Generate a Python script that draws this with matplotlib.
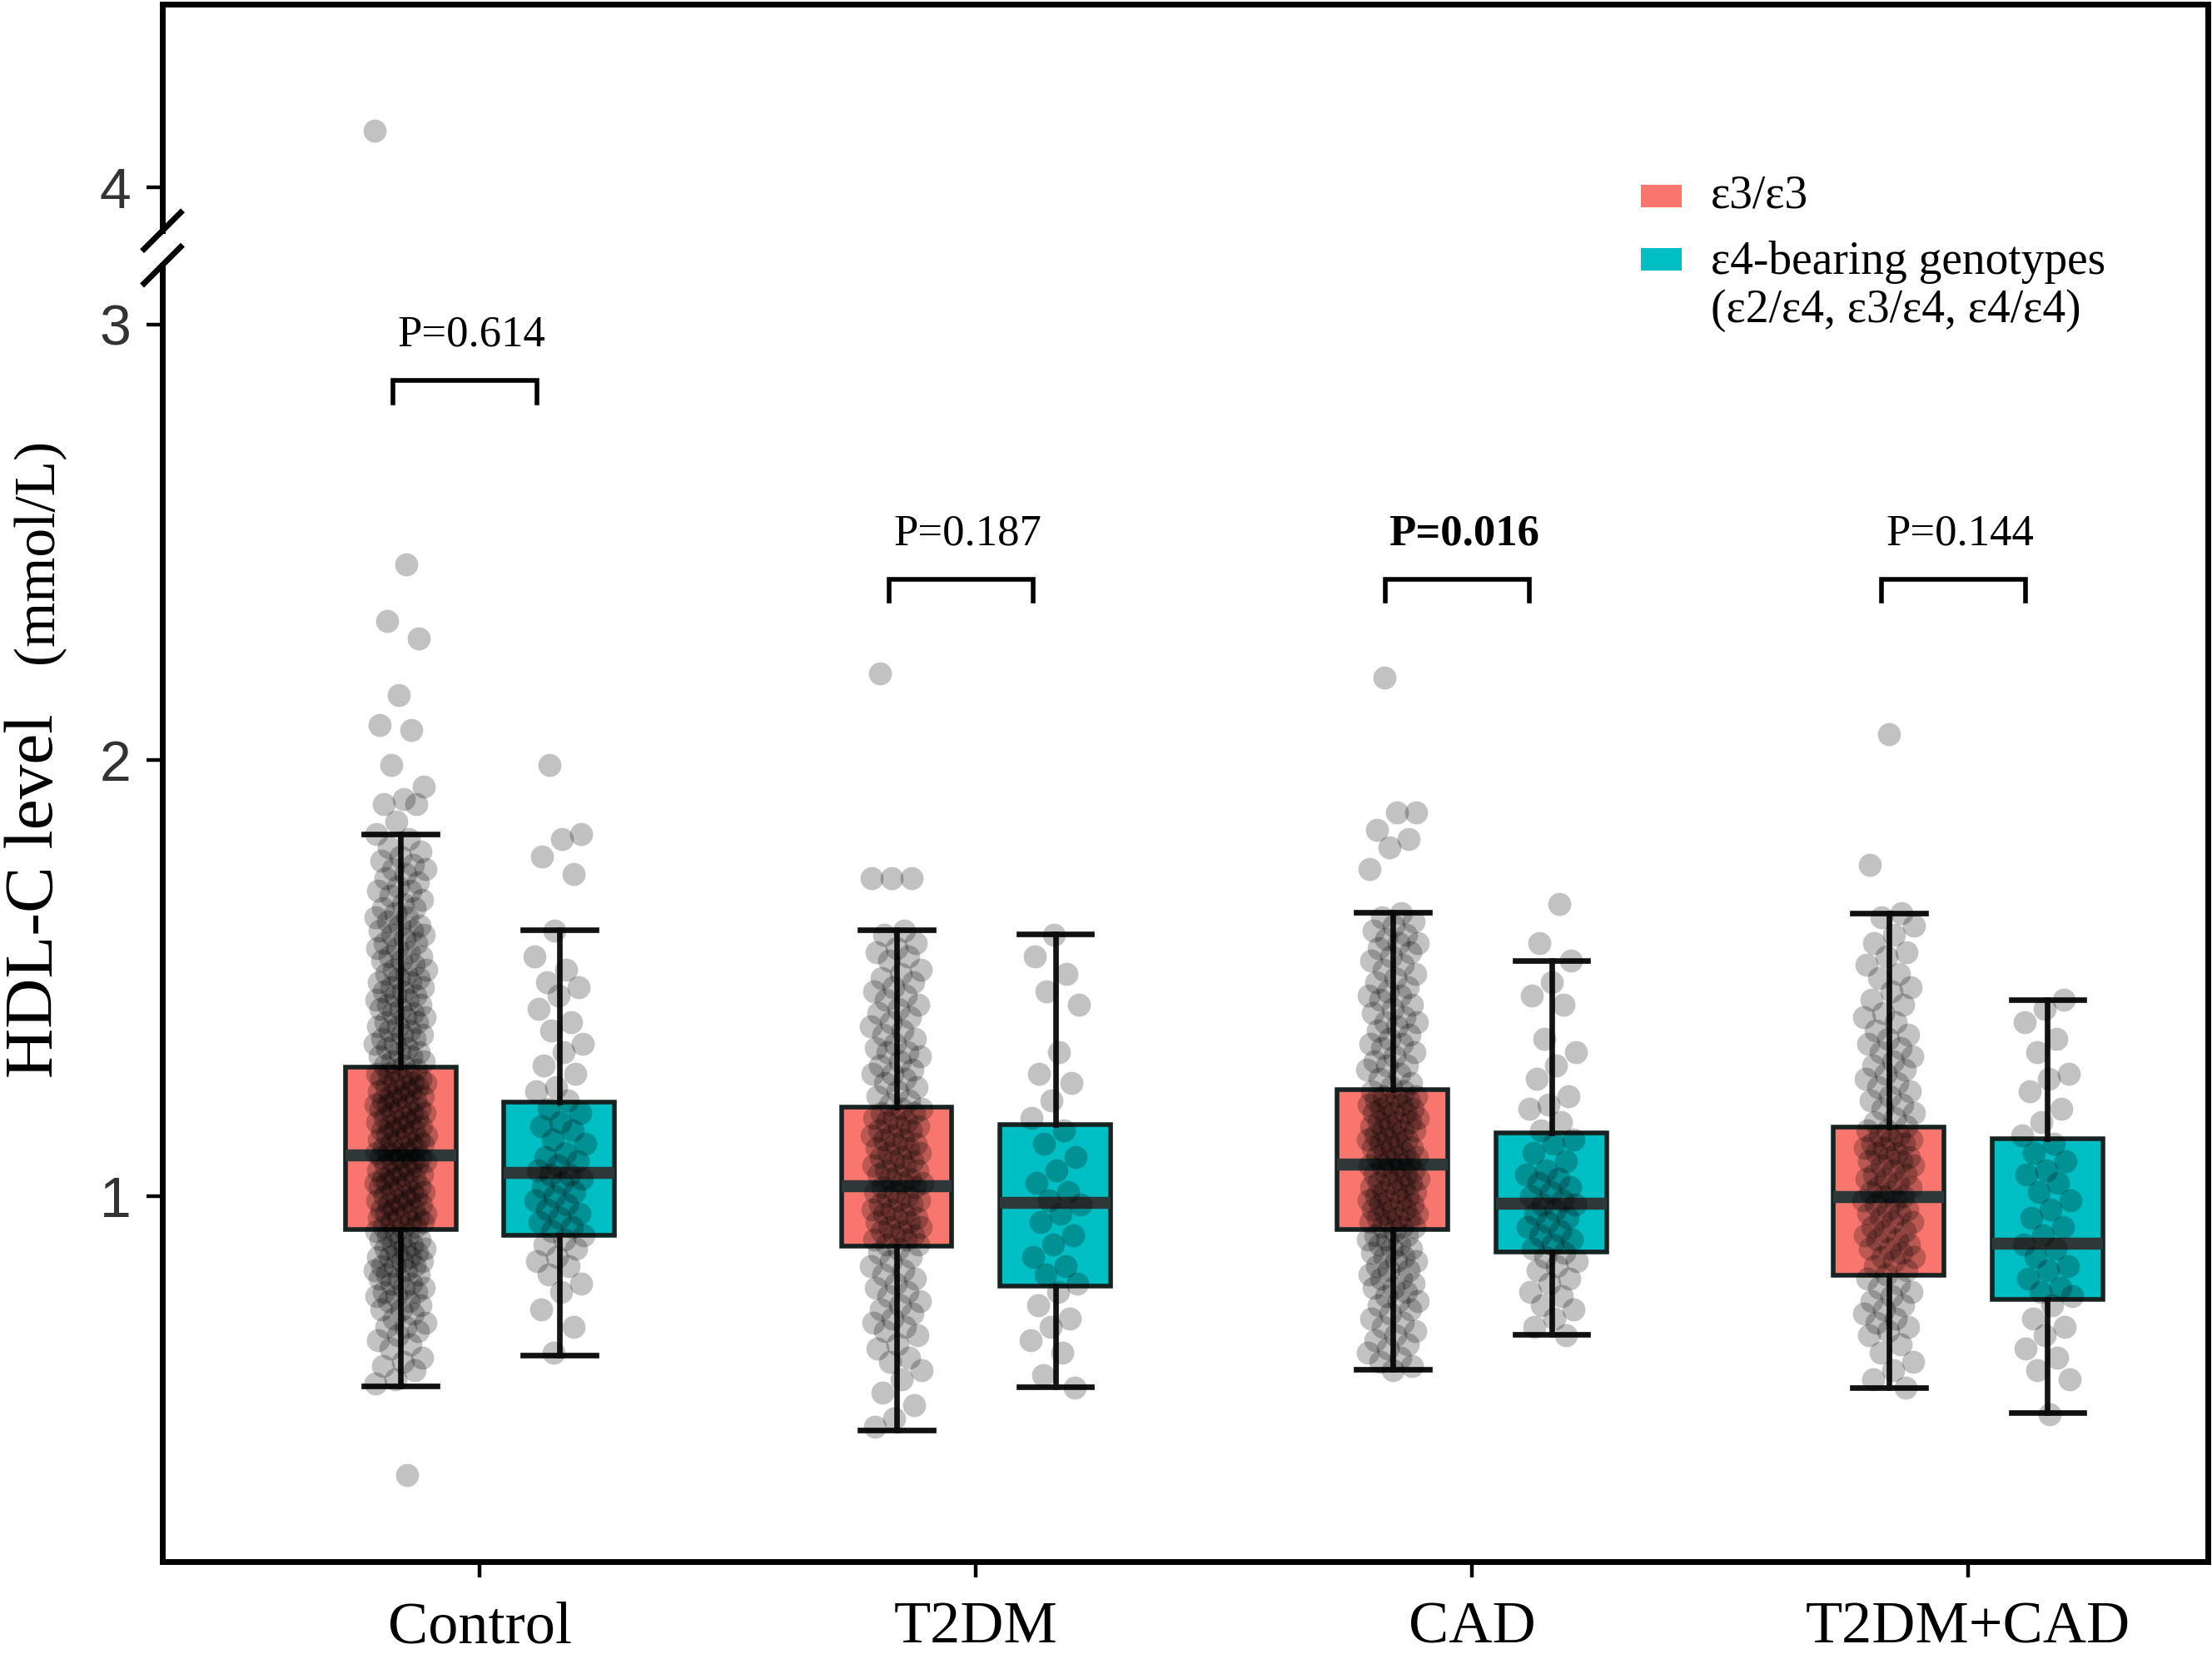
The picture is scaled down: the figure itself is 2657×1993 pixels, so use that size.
import numpy as np
import matplotlib
matplotlib.use('Agg')
import matplotlib.pyplot as plt
from matplotlib.patches import Rectangle

plt.rcParams['font.family'] = ['Liberation Serif', 'DejaVu Serif']

# ---- data (HDL-C, mmol/L) ----
groups = ['Control', 'T2DM', 'CAD', 'T2DM+CAD']
genotypes = ['ε3/ε3', 'ε4-bearing genotypes\n(ε2/ε4, ε3/ε4, ε4/ε4)']
colors = ['#F8766D', '#00BFC4']

# box summaries per group: [ε3/ε3, ε4-bearing]
whislo = [[0.565, 0.636], [0.464, 0.562], [0.603, 0.683], [0.561, 0.503]]
q1 = [[0.923, 0.910], [0.885, 0.793], [0.923, 0.871], [0.819, 0.764]]
med = [[1.093, 1.053], [1.023, 0.985], [1.073, 0.982], [0.998, 0.891]]
q3 = [[1.295, 1.215], [1.204, 1.164], [1.244, 1.145], [1.158, 1.132]]
whishi = [[1.830, 1.612], [1.612, 1.602], [1.651, 1.541], [1.650, 1.451]]

p_labels = ['P=0.614', 'P=0.187', 'P=0.016', 'P=0.144']
p_bold = [False, False, True, False]
p_level = [2.871, 2.415, 2.415, 2.415]

ctrl_e33 = [4.13, 2.45, 2.32, 2.28, 2.15, 2.08, 2.07, 1.99, 1.94, 1.91, 1.90, 1.90, 1.86,
            1.83, 1.82, 1.80, 1.79, 1.78, 1.77, 1.76, 1.75, 1.75, 1.74, 1.73, 1.72, 1.71, 1.70,
            1.70, 1.69, 1.68, 1.67, 1.66, 1.66, 1.65, 1.64, 1.64, 1.63, 1.62, 1.62, 1.61, 1.61,
            1.60, 1.60, 1.59, 1.58, 1.58, 1.57, 1.57, 1.56, 1.55, 1.55, 1.54, 1.54, 1.53, 1.52,
            1.52, 1.51, 1.51, 1.50, 1.50, 1.49, 1.49, 1.48, 1.48, 1.47, 1.47, 1.46, 1.46, 1.45,
            1.45, 1.44, 1.44, 1.43, 1.43, 1.42, 1.42, 1.41, 1.41, 1.40, 1.40, 1.39, 1.39, 1.38,
            1.38, 1.37, 1.37, 1.36, 1.36, 1.35, 1.35, 1.34, 1.34, 1.33, 1.33, 1.32, 1.32, 1.31,
            1.31, 1.30, 1.30,
            1.29, 1.29, 1.28, 1.28, 1.28, 1.27, 1.27, 1.27, 1.26, 1.26, 1.26, 1.25, 1.25, 1.25,
            1.24, 1.24, 1.24, 1.23, 1.23, 1.23, 1.22, 1.22, 1.22, 1.21, 1.21, 1.21, 1.20, 1.20,
            1.20, 1.19, 1.19, 1.19, 1.18, 1.18, 1.18, 1.17, 1.17, 1.17, 1.16, 1.16, 1.16, 1.15,
            1.15, 1.15, 1.14, 1.14, 1.14, 1.13, 1.13, 1.13, 1.12, 1.12, 1.12, 1.11, 1.11, 1.11,
            1.10, 1.10, 1.10, 1.10,
            1.09, 1.09, 1.09, 1.08, 1.08, 1.08, 1.07, 1.07, 1.07, 1.06, 1.06, 1.06, 1.05, 1.05,
            1.05, 1.04, 1.04, 1.04, 1.03, 1.03, 1.03, 1.02, 1.02, 1.02, 1.01, 1.01, 1.01, 1.00,
            1.00, 1.00, 0.99, 0.99, 0.99, 0.98, 0.98, 0.98, 0.97, 0.97, 0.97, 0.96, 0.96, 0.96,
            0.95, 0.95, 0.95, 0.94, 0.94, 0.94, 0.93, 0.93, 0.93, 0.92, 0.92,
            0.91, 0.91, 0.90, 0.90, 0.90, 0.89, 0.89, 0.88, 0.88, 0.88, 0.87, 0.87, 0.86, 0.86,
            0.86, 0.85, 0.85, 0.84, 0.84, 0.84, 0.83, 0.83, 0.82, 0.82, 0.81, 0.81, 0.80, 0.80,
            0.79, 0.79, 0.78, 0.78, 0.77, 0.77, 0.76, 0.76, 0.75, 0.74, 0.74, 0.73, 0.72, 0.71,
            0.70, 0.70, 0.69, 0.68, 0.67, 0.66, 0.65, 0.63, 0.62, 0.61, 0.60, 0.58, 0.57, 0.36]
ctrl_e4 = [1.99, 1.83, 1.82, 1.78, 1.74, 1.61, 1.55, 1.52, 1.49, 1.48, 1.46, 1.43, 1.40, 1.38,
           1.35, 1.33, 1.30, 1.28, 1.25, 1.24, 1.22, 1.20, 1.19, 1.17, 1.16, 1.15, 1.13, 1.12,
           1.10, 1.09, 1.08, 1.07, 1.06, 1.05, 1.05, 1.04, 1.03, 1.02, 1.01, 1.00, 0.99, 0.98,
           0.97, 0.96, 0.95, 0.94, 0.93, 0.92, 0.91, 0.90, 0.89, 0.88, 0.86, 0.85, 0.84, 0.82,
           0.80, 0.78, 0.74, 0.70, 0.64]
t2dm_e33 = [2.20, 1.73, 1.73, 1.73,
            1.61, 1.60, 1.58, 1.57, 1.56, 1.55, 1.54, 1.52, 1.51, 1.50, 1.49, 1.48, 1.47, 1.46,
            1.45, 1.44, 1.43, 1.42, 1.41, 1.40, 1.39, 1.38, 1.37, 1.36, 1.35, 1.34, 1.33, 1.33,
            1.32, 1.31, 1.30, 1.29, 1.28, 1.28, 1.27, 1.26, 1.25, 1.24, 1.23, 1.22, 1.21,
            1.20, 1.20, 1.19, 1.19, 1.18, 1.18, 1.17, 1.17, 1.16, 1.16, 1.15, 1.15, 1.14, 1.14,
            1.13, 1.13, 1.12, 1.12, 1.11, 1.11, 1.10, 1.10, 1.09, 1.09, 1.08, 1.08, 1.07, 1.07,
            1.06, 1.06, 1.05, 1.05, 1.04, 1.04, 1.03, 1.03, 1.02, 1.02, 1.01, 1.01, 1.00, 1.00,
            0.99, 0.99, 0.98, 0.98, 0.97, 0.97, 0.96, 0.96, 0.95, 0.95, 0.94, 0.94, 0.93, 0.93,
            0.92, 0.92, 0.91, 0.91, 0.90, 0.90, 0.89, 0.89,
            0.88, 0.87, 0.86, 0.85, 0.84, 0.83, 0.82, 0.81, 0.80, 0.79, 0.78, 0.77, 0.76, 0.75,
            0.74, 0.73, 0.72, 0.71, 0.70, 0.69, 0.68, 0.66, 0.65, 0.63, 0.62, 0.60, 0.58, 0.55,
            0.52, 0.49, 0.47]
t2dm_e4 = [1.60, 1.55, 1.51, 1.47, 1.44, 1.33, 1.28, 1.26, 1.22, 1.18, 1.15, 1.12, 1.09, 1.06,
           1.03, 1.01, 0.99, 0.98, 0.96, 0.94, 0.91, 0.89, 0.86, 0.84, 0.82, 0.80, 0.78, 0.75,
           0.72, 0.70, 0.67, 0.64, 0.59, 0.56]
cad_e33 = [2.19, 1.88, 1.88, 1.84, 1.82, 1.80, 1.75,
           1.65, 1.64, 1.63, 1.62, 1.61, 1.60, 1.59, 1.58, 1.58, 1.57, 1.56, 1.55, 1.54, 1.53,
           1.52, 1.51, 1.50, 1.49, 1.48, 1.47, 1.46, 1.46, 1.45, 1.44, 1.43, 1.42, 1.41, 1.40,
           1.40, 1.39, 1.38, 1.37, 1.36, 1.35, 1.35, 1.34, 1.33, 1.32, 1.31, 1.30, 1.30, 1.29,
           1.28, 1.27, 1.26, 1.25,
           1.24, 1.24, 1.23, 1.23, 1.23, 1.22, 1.22, 1.21, 1.21, 1.21, 1.20, 1.20, 1.19, 1.19,
           1.19, 1.18, 1.18, 1.17, 1.17, 1.17, 1.16, 1.16, 1.15, 1.15, 1.15, 1.14, 1.14, 1.13,
           1.13, 1.13, 1.12, 1.12, 1.11, 1.11, 1.11, 1.10, 1.10, 1.09, 1.09, 1.09, 1.08, 1.08,
           1.07, 1.07, 1.07, 1.06, 1.06, 1.05, 1.05, 1.05, 1.04, 1.04, 1.03, 1.03, 1.03, 1.02,
           1.02, 1.01, 1.01, 1.01, 1.00, 1.00, 0.99, 0.99, 0.99, 0.98, 0.98, 0.97, 0.97, 0.97,
           0.96, 0.96, 0.95, 0.95, 0.95, 0.94, 0.94, 0.93, 0.93, 0.93,
           0.92, 0.91, 0.91, 0.90, 0.90, 0.89, 0.89, 0.88, 0.88, 0.87, 0.86, 0.86, 0.85, 0.85,
           0.84, 0.83, 0.83, 0.82, 0.81, 0.81, 0.80, 0.79, 0.79, 0.78, 0.77, 0.76, 0.76, 0.75,
           0.74, 0.73, 0.72, 0.71, 0.70, 0.69, 0.68, 0.67, 0.66, 0.65, 0.64, 0.63, 0.62, 0.61,
           0.60]
cad_e4 = [1.67, 1.58, 1.54, 1.49, 1.46, 1.44, 1.36, 1.33, 1.30, 1.27, 1.23, 1.21, 1.20, 1.17,
          1.15, 1.13, 1.12, 1.10, 1.08, 1.06, 1.05, 1.04, 1.03, 1.02, 1.01, 1.00, 0.99, 0.98,
          0.98, 0.97, 0.96, 0.95, 0.94, 0.93, 0.92, 0.91, 0.90, 0.89, 0.88, 0.87, 0.86, 0.85,
          0.84, 0.83, 0.81, 0.80, 0.78, 0.77, 0.75, 0.74, 0.72, 0.70, 0.68]
both_e33 = [2.06, 1.76,
            1.65, 1.64, 1.62, 1.60, 1.58, 1.56, 1.55, 1.53, 1.51, 1.50, 1.48, 1.47, 1.45, 1.44,
            1.42, 1.41, 1.40, 1.38, 1.37, 1.36, 1.35, 1.34, 1.33, 1.32, 1.31, 1.30, 1.29, 1.28,
            1.27, 1.26, 1.25, 1.24, 1.23, 1.22, 1.21, 1.20, 1.19, 1.18, 1.17, 1.16,
            1.15, 1.15, 1.14, 1.14, 1.13, 1.13, 1.12, 1.12, 1.11, 1.11, 1.10, 1.10, 1.09, 1.09,
            1.08, 1.08, 1.07, 1.07, 1.06, 1.05, 1.05, 1.04, 1.04, 1.03, 1.02, 1.02, 1.01, 1.01,
            1.00, 1.00, 0.99, 0.99, 0.98, 0.97, 0.97, 0.96, 0.96, 0.95, 0.94, 0.94, 0.93, 0.92,
            0.92, 0.91, 0.90, 0.90, 0.89, 0.88, 0.88, 0.87, 0.86, 0.86, 0.85, 0.84, 0.83, 0.82,
            0.81, 0.80, 0.79, 0.78, 0.77, 0.76, 0.75, 0.74, 0.73, 0.72, 0.71, 0.70, 0.69, 0.68,
            0.66, 0.64, 0.62, 0.60, 0.58, 0.56]
both_e4 = [1.45, 1.43, 1.40, 1.36, 1.33, 1.28, 1.27, 1.24, 1.20, 1.17, 1.14, 1.12, 1.10, 1.08,
           1.06, 1.05, 1.03, 1.01, 0.99, 0.97, 0.95, 0.93, 0.91, 0.89, 0.88, 0.86, 0.84, 0.83,
           0.81, 0.79, 0.78, 0.77, 0.75, 0.72, 0.70, 0.68, 0.65, 0.63, 0.60, 0.58, 0.50]

points = [[ctrl_e33, ctrl_e4], [t2dm_e33, t2dm_e4], [cad_e33, cad_e4], [both_e33, both_e4]]

# ---- broken y axis: values between ~3.14 and 3.9 are squeezed ----
B_LO, B_HI, SHIFT = 3.136, 3.90, 0.685
K = (B_HI - SHIFT - B_LO) / (B_HI - B_LO)


def fwd(v):
    v = np.asarray(v, dtype=float)
    return np.where(v <= B_LO, v, np.where(v >= B_HI, v - SHIFT, B_LO + (v - B_LO) * K))


def inv(t):
    t = np.asarray(t, dtype=float)
    return np.where(t <= B_LO, t, np.where(t >= B_HI - SHIFT, t + SHIFT, B_LO + (t - B_LO) / K))


fig = plt.figure(figsize=(13.285, 9.965), dpi=200)
ax = fig.add_axes([0.0734, 0.0587, 0.9247, 0.9388])
ax.set_yscale('function', functions=(fwd, inv))
YLO, YHI = 0.1614, 4.42
ax.set_ylim(YLO, YHI)
ax.set_xlim(-0.64, 3.483)

offsets = [-0.16, 0.16]
box_w = 0.223
jit = 0.052

stats, pos, fcs = [], [], []
for i in range(len(groups)):
    for g in range(2):
        stats.append(dict(whislo=whislo[i][g], q1=q1[i][g], med=med[i][g],
                          q3=q3[i][g], whishi=whishi[i][g], fliers=[]))
        pos.append(i + offsets[g])
        fcs.append(colors[g])

bp = ax.bxp(stats, positions=pos, widths=box_w, capwidths=0.147, patch_artist=True,
            showfliers=False,
            boxprops=dict(edgecolor='#172222', linewidth=2.0),
            medianprops=dict(color='#2e3838', linewidth=5.2, solid_capstyle='butt'),
            whiskerprops=dict(color='#141414', linewidth=2.4),
            capprops=dict(color='#111111', linewidth=2.4), zorder=2)
for patch, c in zip(bp['boxes'], fcs):
    patch.set_facecolor(c)

# jittered points (deterministic spread)
for i in range(len(groups)):
    for g in range(2):
        vals = np.array(points[i][g])
        n = len(vals)
        frac = (np.arange(n) * 0.6180339887 + 0.31 * g + 0.17 * i) % 1.0
        xs = i + offsets[g] + (frac * 2 - 1) * jit
        ax.scatter(xs, vals, s=100, color='black', alpha=0.24, linewidths=0, zorder=3)

# p-value brackets
leg = 0.05
for i in range(len(groups)):
    x0, x1 = i - 0.175, i + 0.115
    y = p_level[i]
    ax.plot([x0, x0, x1, x1], [y - leg, y, y, y - leg], color='black', lw=2.0,
            solid_joinstyle='miter', zorder=4)
    ax.text(i - 0.017, y + 0.105, p_labels[i], ha='center', va='center', fontsize=19,
            fontweight='bold' if p_bold[i] else 'normal', color='black')

# axes styling
ax.set_yticks([1, 2, 3, 4])
ax.set_yticklabels(['1', '2', '3', '4'], family=['Liberation Sans', 'DejaVu Sans'],
                   fontsize=24.5, color='#333333')
ax.minorticks_off()
ax.set_xticks(range(len(groups)))
ax.set_xticklabels(groups, fontsize=26, color='black')
ax.tick_params(axis='y', length=7, width=1.6, pad=6.5, color='black')
ax.tick_params(axis='x', length=7, width=1.6, pad=10, color='black')

for s in ['top', 'right', 'bottom']:
    ax.spines[s].set_linewidth(2.5)
    ax.spines[s].set_color('black')
ax.spines['left'].set_visible(False)

span = fwd(YHI) - fwd(YLO)
f_lo = (fwd(B_LO) - fwd(YLO)) / span
f_hi = (fwd(B_HI) - fwd(YLO)) / span
ax.plot([0, 0], [0, f_lo], transform=ax.transAxes, color='black', lw=2.5,
        solid_capstyle='projecting', clip_on=False, zorder=5)
ax.plot([0, 0], [f_hi, 1], transform=ax.transAxes, color='black', lw=2.5,
        solid_capstyle='projecting', clip_on=False, zorder=5)
dx, dy = 22 / 2457, 22 / 1871
for f in (f_lo, f_hi):
    ax.plot([-dx, dx], [f - dy, f + dy], transform=ax.transAxes, color='black', lw=2.5,
            clip_on=False, zorder=5)

# y label (two sizes)
fig.text(0.0237, 0.46, 'HDL-C level', rotation=90, rotation_mode='anchor',
         ha='center', va='baseline', fontsize=30)
fig.text(0.0237, 0.668, '(mmol/L)', rotation=90, rotation_mode='anchor',
         ha='center', va='baseline', fontsize=25)

# legend drawn in axes fraction
patch_x, patch_w, patch_h = 0.7228, 0.020, 0.0144
text_x = 0.757
ax.add_patch(Rectangle((patch_x, 0.8696), patch_w, patch_h, transform=ax.transAxes,
                       facecolor=colors[0], edgecolor='none', clip_on=False))
ax.add_patch(Rectangle((patch_x, 0.8290), patch_w, patch_h, transform=ax.transAxes,
                       facecolor=colors[1], edgecolor='none', clip_on=False))
ax.text(text_x, 0.8768, genotypes[0], transform=ax.transAxes, ha='left', va='center',
        fontsize=20)
ax.text(text_x, 0.8190, genotypes[1], transform=ax.transAxes, ha='left', va='center',
        fontsize=20, linespacing=1.15)

fig.savefig('out.png', dpi=200)
